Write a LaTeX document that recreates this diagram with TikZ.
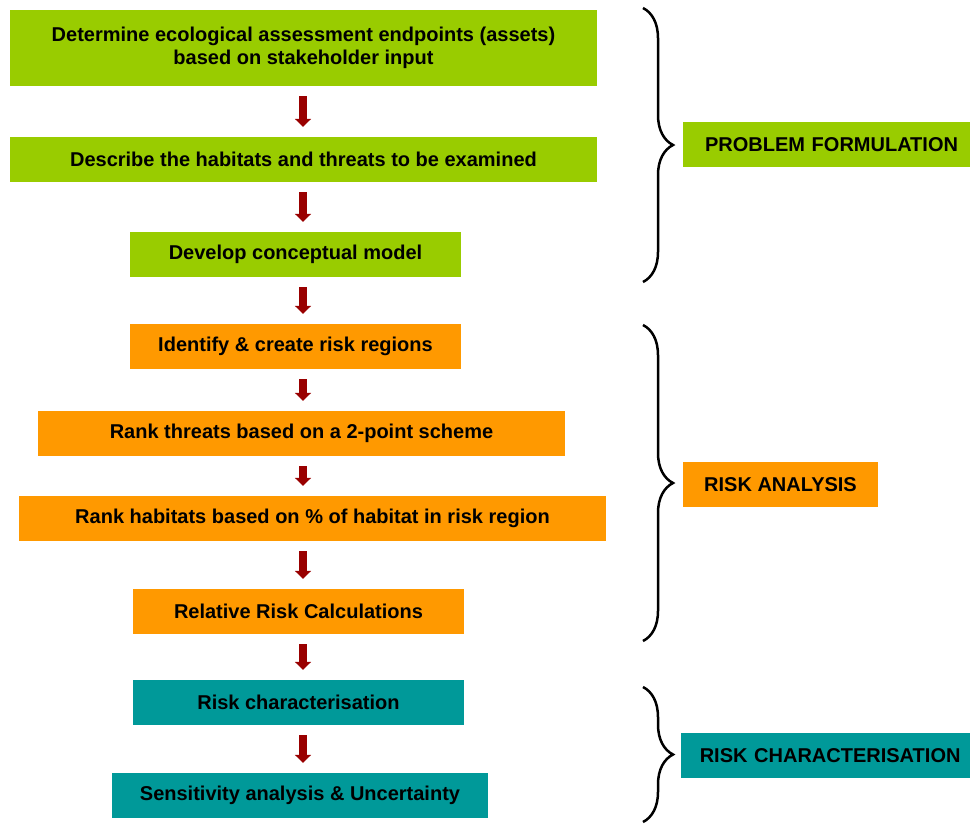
\documentclass[tikz,border=0pt]{standalone}
\usepackage{fontspec}
\setmainfont{Liberation Sans}
\usetikzlibrary{arrows.meta,decorations.pathreplacing}

\definecolor{pfgreen}{HTML}{99CC00}
\definecolor{raorange}{HTML}{FF9900}
\definecolor{rcteal}{HTML}{009999}
\definecolor{arrowred}{HTML}{990000}

\begin{document}
\begin{tikzpicture}[x=1pt, y=-1pt,
        stage/.style={minimum height=45pt, inner sep=0pt, align=center, font=\fontsize{20}{23}\selectfont\bfseries},
        flow/.style={arrowred, line width=8pt, -{Triangle[width=16pt,length=8pt]}, shorten <=10pt, shorten >=10pt},
        phase/.style={decorate, decoration={brace, amplitude=30pt}, line width=2.5pt}]
        \useasboundingbox (0,0) rectangle (970,823);

        % Steps.
        \node[stage, fill=pfgreen, minimum width=587pt, minimum height=76pt] (assets) at (303.5,48) {Determine ecological assessment endpoints (assets)\\based on stakeholder input};
        \node[stage, fill=pfgreen, minimum width=587pt] (habitats) at (303.5,159.5) {Describe the habitats and threats to be examined};
        \node[stage, fill=pfgreen, minimum width=331pt] (model) at (295.5,254.5) {Develop conceptual model};
        \node[stage, fill=raorange, minimum width=331pt] (regions) at (295.5,346.5) {Identify \& create risk regions};
        \node[stage, fill=raorange, minimum width=527pt] (threats) at (301.5,433.5) {Rank threats based on a 2-point scheme};
        \node[stage, fill=raorange, minimum width=587pt] (rankhab) at (312.5,518.5) {Rank habitats based on \% of habitat in risk region};
        \node[stage, fill=raorange, minimum width=331pt] (relrisk) at (298.5,611.5) {Relative Risk Calculations};
        \node[stage, fill=rcteal, minimum width=331pt] (riskchar) at (298.5,702.5) {Risk characterisation};
        \node[stage, fill=rcteal, minimum width=376pt] (sens) at (300,795.5) {Sensitivity analysis \& Uncertainty};

        % Arrows.
        \coordinate (ax) at (303,0);
        \draw[flow] (assets.south -| ax) -- (habitats.north -| ax);
        \draw[flow] (habitats.south -| ax) -- (model.north -| ax);
        \draw[flow] (model.south -| ax) -- (regions.north -| ax);
        \draw[flow] (regions.south -| ax) -- (threats.north -| ax);
        \draw[flow] (threats.south -| ax) -- (rankhab.north -| ax);
        \draw[flow] (rankhab.south -| ax) -- (relrisk.north -| ax);
        \draw[flow] (relrisk.south -| ax) -- (riskchar.north -| ax);
        \draw[flow] (riskchar.south -| ax) -- (sens.north -| ax);

        % Braces and phases.
        \draw[phase] (643,8) -- (643,282);
        \draw[phase] (643,325) -- (643,641);
        \draw[phase] (643,687) -- (643,822);
        \node[stage, fill=pfgreen, minimum width=287pt, text width=263pt, align=right] (pf) at (826.5,144.5) {PROBLEM FORMULATION};
        \node[stage, fill=raorange, minimum width=195pt] (ra) at (780.5,484.5) {RISK ANALYSIS};
        \node[stage, fill=rcteal, minimum width=289pt, text width=270pt, align=right] (rc) at (825.5,755.5) {RISK CHARACTERISATION};

    \end{tikzpicture}
\end{document}
